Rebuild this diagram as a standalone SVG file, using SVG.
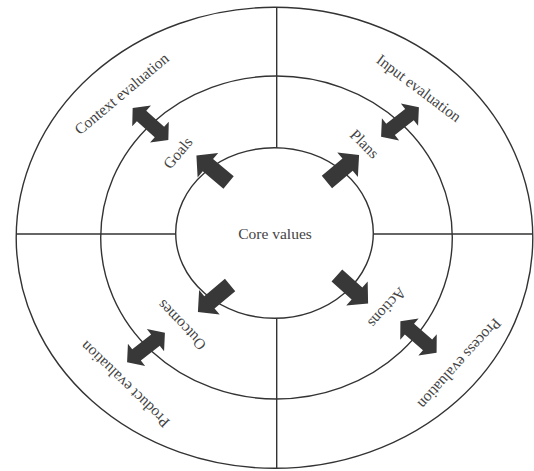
<svg xmlns="http://www.w3.org/2000/svg" width="534" height="471" viewBox="0 0 534 471">
<style>
.ring{fill:none;stroke:#333;stroke-width:1.4}
.div{stroke:#333;stroke-width:1.4;fill:none}
.arr{fill:#383838;stroke:none}
.lbl{font-family:"Liberation Serif","Times New Roman",serif;font-size:15.5px;fill:#444;text-anchor:middle}
</style>
<defs>
<polygon id="single" points="-21,-8 6,-8 6,-16 21,0 6,16 6,8 -21,8"/>
<polygon id="double" points="-24,0 -12,-14 -12,-7 12,-7 12,-14 24,0 12,14 12,7 -12,7 -12,14"/>
</defs>
<rect width="534" height="471" fill="#fff"/>
<g id="outer-ring"><ellipse class="ring" cx="274.5" cy="237.8" rx="258.3" ry="230.5"/></g>
<g id="middle-ring"><ellipse class="ring" cx="276.5" cy="237.5" rx="175.8" ry="161.5"/></g>
<g id="core"><ellipse class="ring" cx="274.5" cy="233" rx="98.8" ry="85.3"/>
<text class="lbl" x="275" y="239">Core values</text></g>
<g id="dividers">
<line class="div" x1="276.7" y1="7.3" x2="276.7" y2="147.7"/>
<line class="div" x1="276.7" y1="318.3" x2="276.7" y2="468.3"/>
<line class="div" x1="16" y1="234" x2="175.7" y2="234"/>
<line class="div" x1="373.3" y1="234" x2="533" y2="234"/>
</g>
<g id="context"><text class="lbl" transform="translate(121.7,94) rotate(-40)" x="0" y="5">Context evaluation</text></g>
<g id="input"><text class="lbl" transform="translate(418.7,88.3) rotate(37)" x="0" y="5">Input evaluation</text></g>
<g id="process"><text class="lbl" transform="translate(459.5,363.5) rotate(132)" x="0" y="5">Process evaluation</text></g>
<g id="product"><text class="lbl" transform="translate(125,384.3) rotate(224)" x="0" y="5">Product evaluation</text></g>
<g id="goals"><text class="lbl" transform="translate(178,153) rotate(-50)" x="0" y="5">Goals</text></g>
<g id="plans"><text class="lbl" transform="translate(364.5,144) rotate(45)" x="0" y="5">Plans</text></g>
<g id="actions"><text class="lbl" transform="translate(387,307.7) rotate(132)" x="0" y="5">Actions</text></g>
<g id="outcomes"><text class="lbl" transform="translate(181.7,325) rotate(226)" x="0" y="5">Outcomes</text></g>
<g id="connectors">
<use href="#single" class="arr" transform="translate(212.5,169) rotate(-140)"/>
<use href="#single" class="arr" transform="translate(343,168.5) rotate(-40)"/>
<use href="#single" class="arr" transform="translate(214,298.5) rotate(140)"/>
<use href="#single" class="arr" transform="translate(352.5,289.5) rotate(42)"/>
<use href="#double" class="arr" transform="translate(150.5,124) rotate(42)"/>
<use href="#double" class="arr" transform="translate(400,122) rotate(-38)"/>
<use href="#double" class="arr" transform="translate(146,347.5) rotate(-38)"/>
<use href="#double" class="arr" transform="translate(418.5,337) rotate(41)"/>
</g>
</svg>
